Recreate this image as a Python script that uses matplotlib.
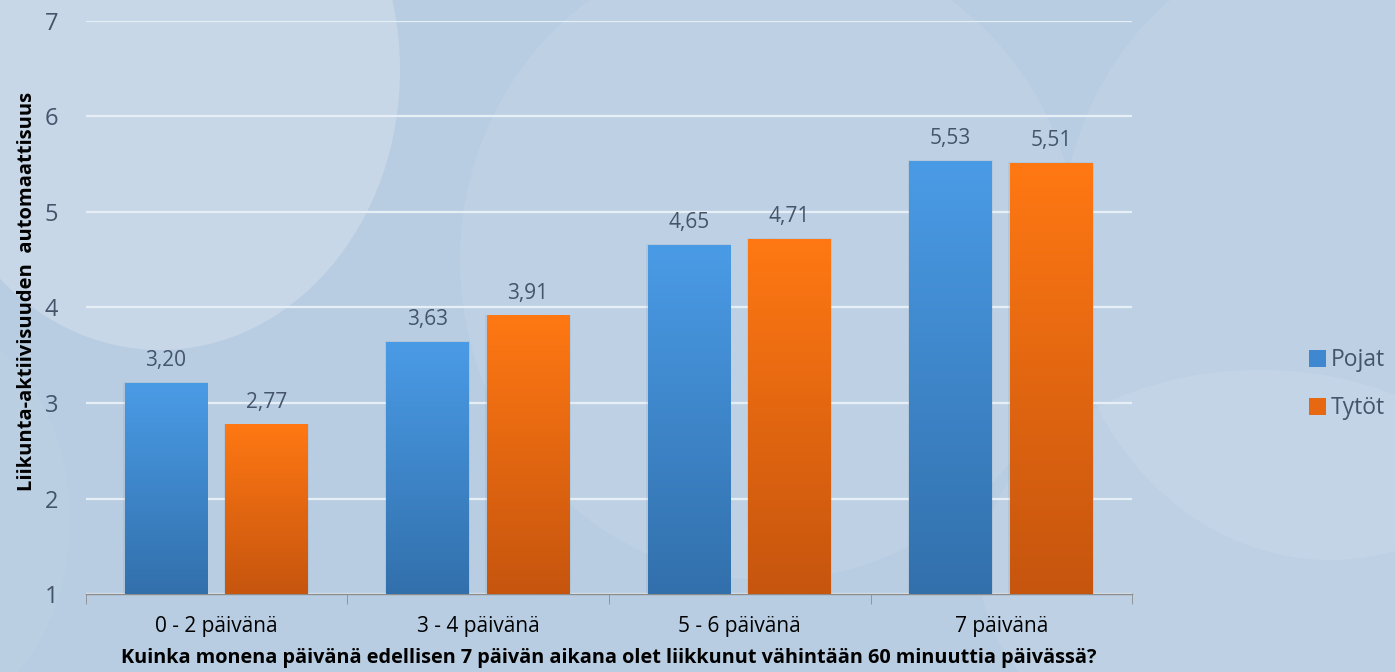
import numpy as np
import matplotlib.pyplot as plt
from matplotlib.colors import LinearSegmentedColormap
from matplotlib.patches import Ellipse, Patch, Rectangle

plt.rcParams['font.family'] = ['Open Sans', 'DejaVu Sans']

# ---- data ----
categories = ['0 - 2 päivänä', '3 - 4 päivänä', '5 - 6 päivänä', '7 päivänä']
pojat = [3.20, 3.63, 4.65, 5.53]
tytot = [2.77, 3.91, 4.71, 5.51]
series_names = ['Pojat', 'Tytöt']
y_ticks = [1, 2, 3, 4, 5, 6, 7]

txt_col = '#44546A'
bg_col = '#B8CDE2'

fig = plt.figure(figsize=(13.95, 6.72), dpi=100)
fig.patch.set_facecolor(bg_col)

# soft background shapes
bg = fig.add_axes([0, 0, 1, 1], zorder=-10)
bg.set_xlim(0, 1395)
bg.set_ylim(672, 0)
bg.axis('off')
shapes = [
    ((160, 70), 480, 560, 0.22),
    ((-80, 520), 300, 400, 0.05),
    ((770, 260), 620, 640, 0.09),
    ((1330, 250), 540, 620, 0.09),
    ((1260, 570), 560, 400, 0.08),
]
for (cx, cy), w, h, a in shapes:
    bg.add_patch(Ellipse((cx, cy), w, h, facecolor='white', alpha=a, edgecolor='none'))

ax = fig.add_axes([0.0616, 0.116, 0.75, 0.853])
ax.set_facecolor('none')

blue_cmap = LinearSegmentedColormap.from_list('b', ['#3270AC', '#4A9BE6'])
orange_cmap = LinearSegmentedColormap.from_list('o', ['#C6550E', '#FF7813'])
grad = np.linspace(0, 1, 256).reshape(-1, 1)

x = np.arange(len(categories))
bar_w = 0.314
offsets = [-0.195, 0.19]

for vals, off, cmap in [(pojat, offsets[0], blue_cmap), (tytot, offsets[1], orange_cmap)]:
    for xi, v in zip(x, vals):
        x0 = xi + off - bar_w / 2
        # faint shadow
        ax.add_patch(Rectangle((x0 - 0.006, 1), bar_w + 0.012, v - 1 + 0.015,
                               facecolor='#5a6f86', alpha=0.10, edgecolor='none', zorder=2))
        ax.imshow(grad, extent=[x0, x0 + bar_w, 1, v], origin='lower',
                  aspect='auto', cmap=cmap, zorder=3)
        ax.text(xi + off, v + 0.13, f'{v:.2f}'.replace('.', ','), ha='center', va='bottom',
                fontsize=15, color=txt_col, zorder=4)

ax.set_xlim(-0.5, len(categories) - 0.5)
ax.set_ylim(1, 7)
ax.set_yticks(y_ticks)
ax.set_yticklabels([str(t) for t in y_ticks], fontsize=17, color=txt_col)
ax.yaxis.grid(True, color='#E6EEF6', linewidth=1.6, zorder=0)
ax.set_axisbelow(True)
ax.tick_params(axis='y', length=0, pad=20)

ax.set_xticks(x)
ax.set_xticklabels(categories, fontsize=15, color='black')
ax.set_xticks(np.arange(len(categories) + 1) - 0.5, minor=True)
ax.tick_params(axis='x', which='major', length=0, pad=16)
ax.tick_params(axis='x', which='minor', length=7, color='#8C8C8C', direction='out')

for s in ['top', 'right', 'left']:
    ax.spines[s].set_visible(False)
ax.spines['bottom'].set_color('#8C8C8C')
ax.spines['bottom'].set_linewidth(1.0)

ax.set_xlabel('Kuinka monena päivänä edellisen 7 päivän aikana olet liikkunut vähintään 60 minuuttia päivässä?',
              fontsize=14.3, fontweight='bold', labelpad=8)
fig.text(0.019, 0.567, 'Liikunta-aktiivisuuden  automaattisuus', rotation=90,
         fontsize=14.5, fontweight='bold', ha='center', va='center')

handles = [Patch(facecolor='#3F88CF', edgecolor='none'), Patch(facecolor='#E86812', edgecolor='none')]
leg = fig.legend(handles, series_names, loc='center left', bbox_to_anchor=(0.938, 0.428),
                 frameon=False, fontsize=16.5, handlelength=0.75, handleheight=0.75,
                 handletextpad=0.2, labelspacing=1.05, borderaxespad=0, borderpad=0)
for t in leg.get_texts():
    t.set_color(txt_col)

fig.savefig('out.png', dpi=100, facecolor=fig.get_facecolor())
